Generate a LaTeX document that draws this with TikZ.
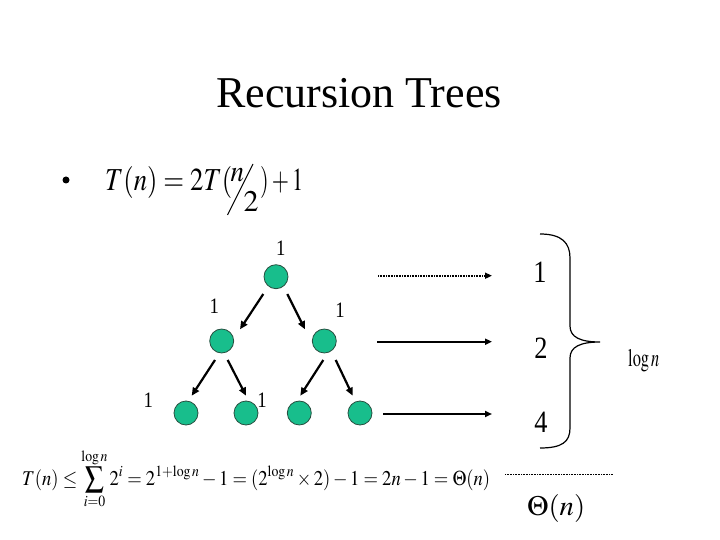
\documentclass[tikz,border=0pt]{standalone}
\usepackage{mathptmx}
\usepackage{fontspec}
\setmainfont{Liberation Serif}
\usepackage{graphicx}
\usetikzlibrary{arrows.meta,calc}
\definecolor{nodegreen}{RGB}{24,190,140}
\definecolor{nodeedge}{RGB}{40,80,65}
\tikzset{
  treenode/.style={circle,fill=nodegreen,draw=nodeedge,line width=0.8pt,minimum size=24pt,inner sep=0pt},
  tarrow/.style={line width=2.2pt,-{Triangle[length=8pt,width=7pt]}},
  harrow/.style={line width=2pt,-{Triangle[length=7pt,width=6pt]}},
  dotarrow/.style={line width=1.6pt,dash pattern=on 1pt off 0.6pt,-{Triangle[length=7pt,width=6pt]}},
  lbl/.style={inner sep=0pt,anchor=base,font=\fontsize{22}{24}\selectfont},
  lvl/.style={inner sep=0pt,anchor=base,font=\fontsize{31}{33}\selectfont},
  txt/.style={inner sep=0pt,anchor=base west},
  rec/.style={txt,font=\fontsize{32}{34}\selectfont}
}
\newcommand{\narrow}[1]{\scalebox{0.85}[1]{#1}}
\begin{document}
\begin{tikzpicture}[x=1pt,y=-1pt]
\useasboundingbox (0,0) rectangle (720,540);
% title
\node[inner sep=0pt,anchor=base,font=\fontsize{44}{48}\selectfont] (title) at (359,108) {Recursion Trees};
% bullet and recurrence
\node[circle,fill=black,inner sep=0pt,minimum size=7pt] (bullet) at (66,180) {};
\node[rec] (reca) at (105,191) {\resizebox{127pt}{\height}{$T(n)=2T($}};
\node[rec,font=\fontsize{30}{32}\selectfont] (recn) at (230.5,182) {\resizebox{13.5pt}{\height}{$n$}};
\node[rec,font=\fontsize{30}{32}\selectfont] (rec2) at (243.5,212) {\resizebox{15pt}{\height}{$2$}};
\node[rec] (recb) at (260,191) {\resizebox{43pt}{\height}{$)+1$}};
\coordinate (sl1) at (227.5,215);
\coordinate (sl2) at (253,164);
\draw[line width=1.1pt] (sl1) -- (sl2);
% tree
\node[treenode] (root) at (276,276.7) {};
\node[treenode] (l) at (221.7,341) {};
\node[treenode] (r) at (324.3,341) {};
\node[treenode] (a) at (186,413) {};
\node[treenode] (b) at (246,413) {};
\node[treenode] (c) at (299.3,413) {};
\node[treenode] (d) at (360,413) {};
\draw[tarrow] ($(root)+(-12.7,17.3)$) -- ($(l)+(18.3,-11.7)$);
\draw[tarrow] ($(root)+(11.3,17.3)$) -- ($(r)+(-19.3,-11.7)$);
\draw[tarrow] ($(l)+(-6.7,19)$) -- ($(a)+(5.7,-17.3)$);
\draw[tarrow] ($(l)+(6,19)$) -- ($(b)+(0,-17.3)$);
\draw[tarrow] ($(r)+(-1,19)$) -- ($(c)+(1,-17.3)$);
\draw[tarrow] ($(r)+(11.4,19)$) -- ($(d)+(-7.3,-17.3)$);
% tree labels
\node[lbl] (t0) at (280.7,255.5) {\narrow{1}};
\node[lbl] (t1) at (214.3,313.5) {\narrow{1}};
\node[lbl] (t2) at (340,317.5) {\narrow{1}};
\node[lbl] (t3) at (148.3,407.5) {\narrow{1}};
\node[lbl] (t4) at (262,407.5) {\narrow{1}};
% level arrows
\coordinate (s1) at (378,275.7);
\coordinate (e1) at (492,275.7);
\coordinate (s2) at (377,341.7);
\coordinate (e2) at (492,341.7);
\coordinate (s3) at (383,414);
\coordinate (e3) at (492,414);
\draw[dotarrow] (s1) -- (e1);
\draw[harrow] (s2) -- (e2);
\draw[harrow] (s3) -- (e3);
% level numbers
\node[lvl] (n1) at (540,282) {\narrow{1}};
\node[lvl] (n2) at (541,358) {\narrow{2}};
\node[lvl] (n4) at (541,432) {\narrow{4}};
% brace
\draw[line width=1.2pt] (540,234) .. controls (562,234) and (570,243) .. (570,258)
  -- (570,326) .. controls (570,337) and (580,342) .. (600,342)
  .. controls (580,342) and (570,347) .. (570,358)
  -- (570,428) .. controls (570,442) and (562,448) .. (540,448);
\node[txt,font=\fontsize{25}{27}\selectfont] (logn) at (628,366) {\resizebox{31pt}{\height}{$\log n$}};
% bottom
\node[txt,font=\fontsize{21}{23}\selectfont] (sum) at (22,485) {\resizebox{468pt}{\height}{$T(n)\le\displaystyle\sum_{i=0}^{\log n}2^i=2^{1+\log n}-1=(2^{\log n}\times 2)-1=2n-1=\Theta(n)$}};
\coordinate (d1) at (505,474);
\coordinate (d2) at (613,474);
\draw[line width=0.8pt,dash pattern=on 0.8pt off 0.8pt] (d1) -- (d2);
\node[txt,font=\fontsize{28}{30}\selectfont] (theta) at (527,515) {\resizebox{58pt}{\height}{$\Theta(n)$}};
\end{tikzpicture}
\end{document}
